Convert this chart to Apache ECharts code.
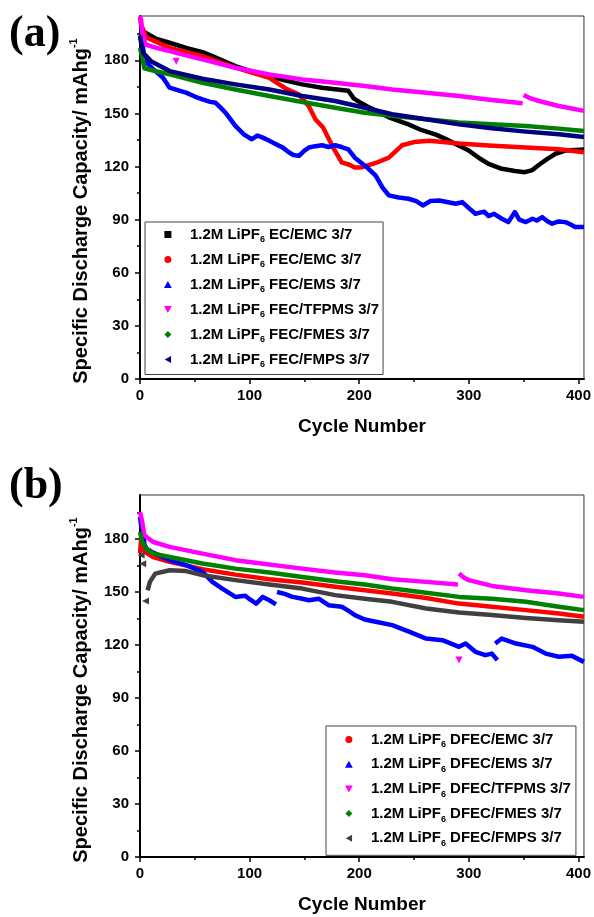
<!DOCTYPE html>
<html>
<head>
<meta charset="utf-8">
<script src="https://cdn.jsdelivr.net/npm/echarts@6/dist/echarts.min.js"></script>
<style>
  html, body { margin: 0; padding: 0; background: #fff; }
  #chart { width: 594px; height: 917px; }
</style>
</head>
<body>
<div id="chart"></div>
<script>
/* cycle number vs discharge capacity (mAh/g); null = gap in the trace */

/* panel (a) */
const aEcEmc = [[0,197],[5,195.5],[15,192],[27,189.9],[42,187],[57,184.6],[66,182.3],[87,176.7],[100,174],[118,171.1],[133,168.5],[148,166.4],[166,164.5],[182,163.3],[190,162.8],[195,158.5],[200,156.5],[207,154],[217,151],[227,147.8],[245,143.8],[257,140.5],[270,138],[282,134.6],[292,131.5],[300,129],[310,124.5],[318,121.5],[330,118.7],[342,117.5],[351,116.8],[358,118],[364,121],[372,124.5],[379,127.2],[388,129],[405,129.6]];
const aFecEmc = [[0,204],[1,200],[6,192.9],[27,187],[57,182.3],[87,175.8],[118,170.1],[133,164],[145,160.7],[154,154],[160,146.7],[167,142],[176,131],[184,122.3],[191,121],[196,119.4],[203,119.6],[215,122],[227,125],[239,132],[250,133.8],[264,134.6],[291,133],[318,131.8],[352,130.7],[382,129.7],[405,128]];
const aFecEms = [[0,193],[2,190],[4,182],[6,178.6],[12,175],[21,170.1],[27,164.5],[35,163],[42,161.7],[50,159.5],[57,157.9],[64,156.5],[69,156],[74,153],[78,150.4],[87,142.9],[95,138],[102,135.4],[107,137.5],[112,136.3],[118,134.5],[124,132.6],[130,130.8],[136,127.9],[140,126.5],[145,126],[150,129],[154,130.7],[160,131.5],[166,132],[172,131],[178,132],[184,131],[190,129.7],[196,125],[202,122],[208,119],[215,114.8],[221,108.3],[227,103.7],[236,102.5],[245,101.8],[252,100.5],[258,98],[265,100.5],[273,100.8],[280,100],[288,99],[294,99.9],[300,96.5],[306,93.3],[314,94.5],[318,92],[323,93.3],[330,90.5],[336,88.6],[342,94.3],[346,90],[352,88.6],[358,90.5],[362,89.5],[367,91.4],[372,89],[376,87.7],[382,89],[388,88.6],[392,87.5],[397,85.8],[405,85.8]];
const aFecTfpms = [[0,205],[1,203],[2,196],[5,188.9],[15,187],[27,185.2],[42,182.8],[57,180.5],[87,175.8],[118,172],[148,169.2],[178,167.3],[205,165.5],[230,163.5],[261,161.7],[291,159.8],[321,157.6],[349,155.7],null,[350,160.4],[355,158.8],[364,157],[382,154.2],[405,151.4]];
const aFecTfpmsDots = [[33,179.5]];
const aFecFmes = [[0,187],[2,182],[4,175.5],[10,174.5],[27,172],[57,167.3],[87,163.5],[118,159.8],[148,156.4],[178,153.2],[205,150.4],[230,148.6],[261,146.7],[291,144.8],[321,143.8],[352,142.9],[382,141.4],[405,140]];
const aFecFmps = [[0,194],[1,190],[3,184],[10,179.5],[27,173.9],[57,169.6],[87,166.4],[118,163.5],[148,159.8],[178,157],[205,153.2],[230,149.5],[261,146.7],[291,143.8],[321,141.6],[352,139.7],[382,138.2],[405,136.7]];

/* panel (b) */
const bDfecEmc = [[0,172],[1,180],[3,175],[5,172.5],[12,169.9],[27,167.1],[57,163],[87,159.9],[118,157.3],[148,155.4],[178,153],[205,151.1],[230,149.2],[261,146.7],[291,143.5],[321,141.7],[352,139.8],[382,137.9],[405,136]];
const bDfecEms = [[0,192.6],[1,188],[3,184],[4,177],[6,174.6],[12,172.4],[27,168.1],[42,165.3],[57,161.5],[66,155.8],[75,152],[87,147.3],[96,147.9],[100,146],[106,143.5],[112,147.3],[118,145.4],[124,143],null,[125,150.1],[132,149],[139,147.3],[146,146.5],[154,145.4],[163,146.3],[172,142.6],[184,141.7],[190,139.5],[196,137],[205,134.5],[215,133.2],[230,131.3],[246,127.5],[261,123.7],[276,122.8],[291,119],[297,120.9],[306,116.2],[315,114.3],[321,115.2],[326,111.5],null,[324,120.9],[330,123.7],[343,120.9],[358,119],[370,115.2],[382,113.4],[394,113.9],[405,110.5]];
const bDfecTfpms = [[0,195.4],[2,189.8],[4,182.2],[12,178.4],[27,175.6],[57,171.8],[87,168.1],[118,165.6],[148,163.3],[178,161.1],[205,159.6],[230,157.3],[261,155.8],[290,154.3],null,[291,160.5],[296,158],[300,156.8],[321,153.5],[352,151.1],[382,149.2],[405,147.3]];
const bDfecTfpmsDots = [[291,111.5]];
const bDfecFmes = [[0,184],[2,178.4],[5,175],[12,171.8],[27,169.9],[57,166.2],[87,163.3],[118,161.1],[148,158.6],[178,156.2],[205,154.3],[230,152],[261,149.7],[291,147.3],[321,146.3],[352,144.5],[382,141.7],[405,139.8]];
const bDfecFmps = [[7,151],[9,155.8],[14,160.5],[27,162.4],[42,161.9],[57,159.6],[87,156.8],[118,154.3],[148,152],[178,148.3],[205,146.3],[230,144.5],[261,140.7],[291,138.4],[321,137],[352,135.4],[382,134.1],[405,133.2]];
const bDfecFmpsDots = [[1,171],[2.5,166],[5,145]];

const yTicks = [0, 30, 60, 90, 120, 150, 180];
const xTicks = [0, 100, 200, 300, 400];

/* markers (paths so the legend keeps their aspect) */
const SQUARE = 'path://M0,0L10,0L10,10L0,10Z';
const CIRCLE = 'circle';
const UP = 'path://M5,0L10,9L0,9Z';
const DOWN = 'path://M0,0L10,0L5,9Z';
const DIAMOND = 'path://M5,0L10,5L5,10L0,5Z';
const LEFT = 'path://M9,0L9,10L0,5Z';

const FONT = '"Liberation Sans", Arial, sans-serif';

function makeSeries(name, color, shape, pts, dots, idx) {
  let data = pts.map(p => p === null ? ['-', '-'] : p);
  (dots || []).forEach(d => {
    data.push(['-', '-']);
    data.push({ value: d, symbol: shape, symbolSize: 7 });
  });
  return {
    name: name,
    type: 'line',
    xAxisIndex: idx,
    yAxisIndex: idx,
    data: data,
    symbol: 'none',
    showSymbol: true,
    color: color,
    lineStyle: { width: 4.5, color: color, join: 'round' },
    itemStyle: { color: color },
    emphasis: { disabled: true },
    silent: true
  };
}

const seriesA = [
  ['EC/EMC 3/7', '#000000', SQUARE, aEcEmc, null],
  ['FEC/EMC 3/7', '#ff0000', CIRCLE, aFecEmc, null],
  ['FEC/EMS 3/7', '#0000ff', UP, aFecEms, null],
  ['FEC/TFPMS 3/7', '#ff00ff', DOWN, aFecTfpms, aFecTfpmsDots],
  ['FEC/FMES 3/7', '#008000', DIAMOND, aFecFmes, null],
  ['FEC/FMPS 3/7', '#000080', LEFT, aFecFmps, null]
];
const seriesB = [
  ['DFEC/EMC 3/7', '#ff0000', CIRCLE, bDfecEmc, null],
  ['DFEC/EMS 3/7', '#0000ff', UP, bDfecEms, null],
  ['DFEC/TFPMS 3/7', '#ff00ff', DOWN, bDfecTfpms, bDfecTfpmsDots],
  ['DFEC/FMES 3/7', '#008000', DIAMOND, bDfecFmes, null],
  ['DFEC/FMPS 3/7', '#404040', LEFT, bDfecFmps, bDfecFmpsDots]
];

function xAxis(idx) {
  return {
    type: 'value', gridIndex: idx, min: 0, max: 405, interval: 100,
    name: 'Cycle Number', nameLocation: 'middle', nameGap: 38,
    nameTextStyle: { fontFamily: FONT, fontSize: 19, fontWeight: 'bold', color: '#000' },
    axisLine: { lineStyle: { color: '#000', width: 2 } },
    axisTick: { customValues: xTicks, length: 5, lineStyle: { color: '#000', width: 1.5 } },
    minorTick: { show: true, splitNumber: 2, length: 3, lineStyle: { color: '#000', width: 1.5 } },
    axisLabel: { customValues: xTicks, margin: 9, fontFamily: FONT, fontSize: 15, fontWeight: 'bold', color: '#000' },
    splitLine: { show: false }
  };
}
function yAxis(idx) {
  return {
    type: 'value', gridIndex: idx, min: 0, max: 205, interval: 30,
    axisLine: { lineStyle: { color: '#000', width: 2 } },
    axisTick: { customValues: yTicks, length: 5, lineStyle: { color: '#000', width: 1.5 } },
    minorTick: { show: true, splitNumber: 2, length: 3, lineStyle: { color: '#000', width: 1.5 } },
    axisLabel: { customValues: yTicks, margin: 11, fontFamily: FONT, fontSize: 15, fontWeight: 'bold', color: '#000' },
    splitLine: { show: false }
  };
}

const legendText = {
  color: '#000',
  rich: {
    t: { fontFamily: FONT, fontSize: 15, fontWeight: 'bold', lineHeight: 20, color: '#000' },
    s: { fontFamily: FONT, fontSize: 9, fontWeight: 'bold', lineHeight: 6, verticalAlign: 'bottom', color: '#000' }
  }
};
function legendLabel(name) {
  return '{t|1.2M LiPF}{s|6}{t| ' + name + '}';
}
function legend(list, left, top, padding, gap) {
  return {
    orient: 'vertical', left: left, top: top, padding: padding,
    itemWidth: 34, itemHeight: 7, itemGap: gap, align: 'left',
    selectedMode: false,
    borderColor: '#444', borderWidth: 1, backgroundColor: '#fff',
    data: list.map(s => ({ name: s[0], icon: s[2] })),
    formatter: legendLabel,
    textStyle: legendText
  };
}

const yName = '{a|Specific Discharge Capacity/ mAhg}{b|-1}';
const yNameRich = {
  a: { fontFamily: FONT, fontSize: 20, fontWeight: 'bold', lineHeight: 26, fill: '#000' },
  b: { fontFamily: FONT, fontSize: 11, fontWeight: 'bold', lineHeight: 12, verticalAlign: 'top', fill: '#000' }
};

const chart = echarts.init(document.getElementById('chart'), null, { renderer: 'canvas' });
chart.setOption({
  animation: false,
  backgroundColor: '#fff',
  grid: [
    { left: 140, top: 16, width: 446, height: 363, show: true, borderColor: '#333', borderWidth: 1 },
    { left: 140, top: 495, width: 446, height: 362, show: true, borderColor: '#333', borderWidth: 1 }
  ],
  xAxis: [xAxis(0), xAxis(1)],
  yAxis: [yAxis(0), yAxis(1)],
  legend: [
    legend(seriesA, 145, 222, [5, 4, 5, 19], 7.5),
    legend(seriesB, 326, 726, [6, 5, 7, 19], 7.2)
  ],
  graphic: [
    { type: 'text', left: 9, top: 13, style: { text: '(a)', font: 'bold 44px "Liberation Serif", "Times New Roman", serif', fill: '#000' } },
    { type: 'text', left: 9, top: 465, style: { text: '(b)', font: 'bold 44px "Liberation Serif", "Times New Roman", serif', fill: '#000' } },
    { type: 'text', x: 81, y: 211, rotation: Math.PI / 2, style: { text: yName, rich: yNameRich, align: 'center', verticalAlign: 'middle' } },
    { type: 'text', x: 81, y: 690, rotation: Math.PI / 2, style: { text: yName, rich: yNameRich, align: 'center', verticalAlign: 'middle' } }
  ],
  series: seriesA.map(s => makeSeries(s[0], s[1], s[2], s[3], s[4], 0))
    .concat(seriesB.map(s => makeSeries(s[0], s[1], s[2], s[3], s[4], 1)))
});
</script>
</body>
</html>
